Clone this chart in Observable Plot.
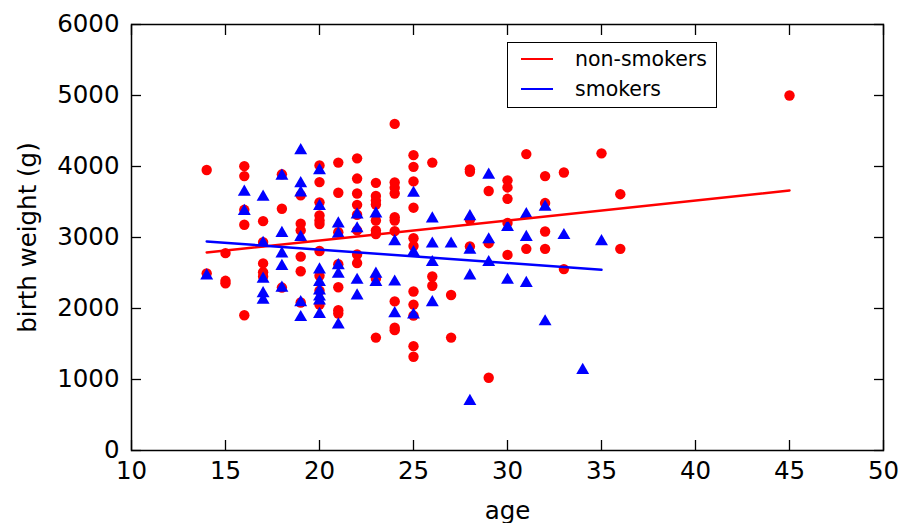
<!DOCTYPE html>
<html>
<head>
<meta charset="utf-8">
<script src="https://cdn.jsdelivr.net/npm/d3@7"></script>
<script src="https://cdn.jsdelivr.net/npm/@observablehq/plot@0.6"></script>
<style>
  html, body { margin: 0; padding: 0; background: #fff; }
  #wrap { position: relative; width: 902px; height: 523px; font-family: "DejaVu Sans", sans-serif; }
  #legend { position: absolute; left: 507px; top: 42px; width: 208px; height: 64px; border: 1.5px solid #000; background: #fff; font-size: 20.5px; }
  .row { position: absolute; left: 0; height: 24px; display: flex; align-items: center; }
  .sw { width: 32px; height: 0; border-top: 2px solid; margin-left: 13px; margin-right: 22px; }
</style>
</head>
<body>
<div id="wrap"></div>
<script>
// ---- data ----
const nonSmokerAges = [
  14,14, 15,15,15, 16,16,16,16,16, 17,17,17,17,17, 18,18,18,
  19,19,19,19,19,19, 20,20,20,20,20,20,20,20,20,20,
  21,21,21,21,21,21,21, 22,22,22,22,22,22,22,22,
  23,23,23,23,23,23,23,23,23, 24,24,24,24,24,24,24,24,24,24,
  25,25,25,25,25,25,25,25,25,25,25, 26,26,26, 27,27, 28,28,28,28,
  29,29,29, 30,30,30,30,30, 31,31, 32,32,32,32, 33,33, 35, 36,36, 45
];
const nonSmokerWeights = [
  3950,2495, 2780,2390,2355, 4005,3865,3390,3180,1905, 3230,2935,2635,2510,2450, 3890,3405,2295,
  3595,3195,3100,2730,2525,2085, 4015,3780,3495,3310,3240,3190,2810,2460,2250,2055,
  4055,3630,3075,2625,2300,1975,1930, 4115,3830,3620,3460,3320,3100,2760,2640,
  3770,3585,3520,3465,3240,3100,3050,2420,1590, 4600,3775,3700,3620,3285,3240,3090,2100,1730,1695,
  4160,3995,3790,3420,2990,2880,2240,2055,1900,1470,1320, 4055,2450,2320, 2190,1590, 3960,3925,3250,2875,
  3655,2920,1025, 3805,3705,3545,3205,2755, 4175,2840, 3865,3485,3085,2840, 3915,2555, 4185, 3610,2840, 5000
];
const smokerAges = [
  14, 16,16, 17,17,17,17,17, 18,18,18,18,18, 19,19,19,19,19,19,
  20,20,20,20,20,20,20,20, 21,21,21,21,21, 22,22,22,22, 23,23,23,
  24,24,24, 25,25,25, 26,26,26,26, 27, 28,28,28,28, 29,29,29,
  30,30, 31,31,31, 32,32, 33, 34, 35
];
const smokerWeights = [
  2460, 3640,3370, 3570,2920,2415,2210,2120, 3865,3060,2770,2595,2290, 4225,3760,3630,3005,2085,1875,
  3945,3440,2545,2370,2250,2165,2110,1920, 3195,3050,2605,2485,1770, 3320,3125,2400,2180, 3335,2485,2370,
  2945,2375,1930, 3625,2790,1910, 3265,2910,2650,2085, 2910, 3295,2825,2460,695, 3880,2970,2650,
  3145,2400, 3325,3005,2355, 3430,1815, 3030, 1130, 2945
];
// fitted regression lines (end points)
const nonSmokerFitAges = [14, 45];
const nonSmokerFitWeights = [2790, 3662];
const smokerFitAges = [14, 35];
const smokerFitWeights = [2943, 2545];

const xTicks = [10, 15, 20, 25, 30, 35, 40, 45, 50];
const yTicks = [0, 1000, 2000, 3000, 4000, 5000, 6000];

const zip = (xs, ys) => xs.map((x, i) => ({age: x, bw: ys[i]}));
const nonSmokers = zip(nonSmokerAges, nonSmokerWeights);
const smokers = zip(smokerAges, smokerWeights);
const nsFit = zip(nonSmokerFitAges, nonSmokerFitWeights);
const sFit = zip(smokerFitAges, smokerFitWeights);

const blank = () => "";
const plain = d => String(d);
const chart = Plot.plot({
  width: 902,
  height: 523,
  marginLeft: 131,
  marginRight: 19,
  marginTop: 24,
  marginBottom: 73,
  style: {fontFamily: "DejaVu Sans, sans-serif", fontSize: "24px", background: "#fff", color: "#000"},
  x: {domain: [10, 50]},
  y: {domain: [0, 6000]},
  marks: [
    Plot.dot(nonSmokers, {x: "age", y: "bw", r: 5.2, fill: "#ff0000", stroke: null}),
    Plot.dot(smokers, {x: "age", y: "bw", r: 4.8, symbol: "triangle", fill: "#0000ff", stroke: null}),
    Plot.line(nsFit, {x: "age", y: "bw", stroke: "#ff0000", strokeWidth: 2.5}),
    Plot.line(sFit, {x: "age", y: "bw", stroke: "#0000ff", strokeWidth: 2.5}),
    // tick labels and axis titles
    Plot.axisX(xTicks, {anchor: "bottom", tickSize: 0, tickPadding: 11, fontSize: 24.5, tickFormat: plain, label: "age", labelAnchor: "center", labelOffset: 68, labelArrow: "none"}),
    Plot.axisY(yTicks, {anchor: "left", tickSize: 0, tickPadding: 12, fontSize: 24.5, tickFormat: plain, label: "birth weight (g)", labelAnchor: "center", labelOffset: 113, labelArrow: "none"}),
    // inward ticks on all four sides
    Plot.axisX(xTicks, {anchor: "bottom", tickSize: -10, tickFormat: blank, label: null, strokeWidth: 1.3}),
    Plot.axisX(xTicks, {anchor: "top", tickSize: -10, tickFormat: blank, label: null, strokeWidth: 1.3}),
    Plot.axisY(yTicks, {anchor: "left", tickSize: -10, tickFormat: blank, label: null, strokeWidth: 1.3}),
    Plot.axisY(yTicks, {anchor: "right", tickSize: -10, tickFormat: blank, label: null, strokeWidth: 1.3}),
    Plot.frame({stroke: "#000", strokeWidth: 1.5})
  ]
});

const wrap = document.getElementById("wrap");
wrap.appendChild(chart);

const legend = document.createElement("div");
legend.id = "legend";
const entries = [["non-smokers", "#ff0000", 4], ["smokers", "#0000ff", 34]];
for (const [label, color, top] of entries) {
  const row = document.createElement("div");
  row.className = "row";
  row.style.top = top + "px";
  const sw = document.createElement("div");
  sw.className = "sw";
  sw.style.borderTopColor = color;
  const t = document.createElement("span");
  t.textContent = label;
  row.appendChild(sw);
  row.appendChild(t);
  legend.appendChild(row);
}
wrap.appendChild(legend);
</script>
</body>
</html>
